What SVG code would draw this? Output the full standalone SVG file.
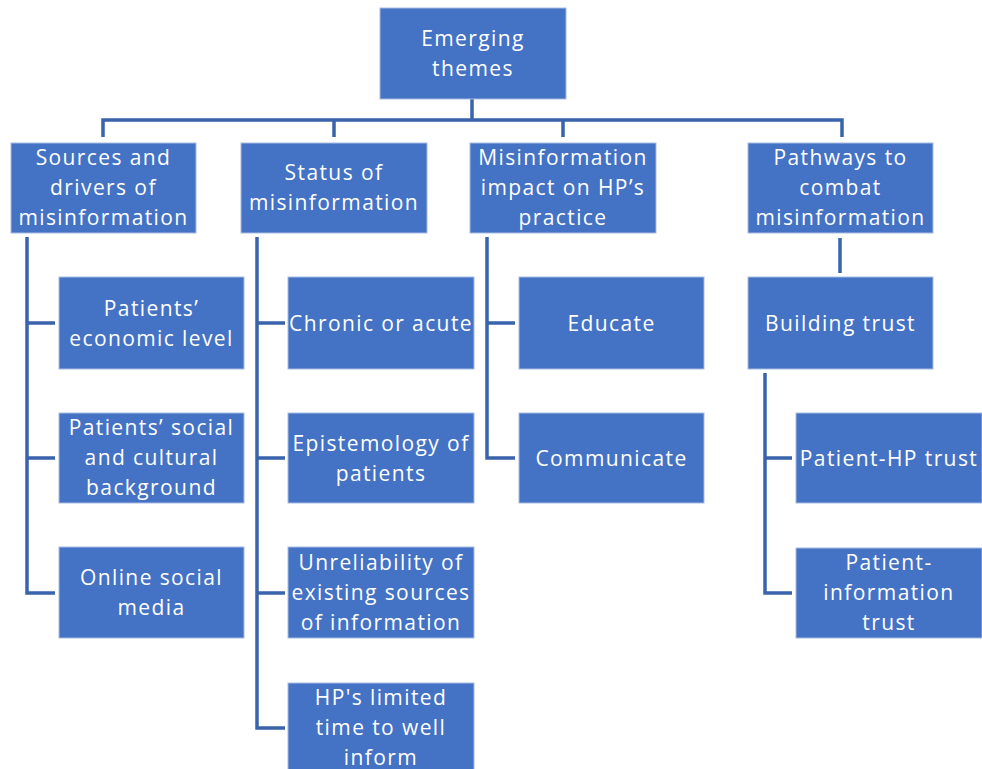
<svg xmlns="http://www.w3.org/2000/svg" width="982" height="769" viewBox="0 0 982 769">
  <style>
    .box { fill: #4472c4; stroke: #a6bbe2; stroke-width: 1; }
    .lbl { fill: #ffffff; font-family: "Open Sans", "Liberation Sans", sans-serif; font-size: 21px; letter-spacing: 1.4px; text-anchor: middle; }
    .wire { fill: none; stroke: #3a63ad; stroke-width: 3.5; stroke-linejoin: miter; }
  </style>
  <rect width="982" height="769" fill="#ffffff"/>

  <!-- connectors -->
  <g id="connectors">
    <path class="wire" d="M472 99 V120 M103 137 V120 H842 V137 M334 120 V137 M563 120 V137"/>
    <path class="wire" d="M27 237 V593 H55 M27 323 H55 M27 458 H55"/>
    <path class="wire" d="M257 237 V728 H285 M257 323 H285 M257 458 H285 M257 593 H285"/>
    <path class="wire" d="M487 237 V458 H515 M487 323 H515"/>
    <path class="wire" d="M840 238 V273"/>
    <path class="wire" d="M765 373 V593 H792 M765 458 H792"/>
  </g>

  <!-- root -->
  <g id="root">
    <rect class="box" x="380" y="8" width="186" height="91"/>
    <text class="lbl" x="473" y="46">Emerging</text>
    <text class="lbl" x="473" y="76">themes</text>
  </g>

  <!-- level 1 -->
  <g id="sources">
    <rect class="box" x="11" y="143" width="185" height="90"/>
    <text class="lbl" x="103.5" y="165">Sources and</text>
    <text class="lbl" x="103.5" y="195">drivers of</text>
    <text class="lbl" x="103.5" y="225">misinformation</text>
  </g>
  <g id="status">
    <rect class="box" x="241" y="143" width="186" height="90"/>
    <text class="lbl" x="334" y="180">Status of</text>
    <text class="lbl" x="334" y="210">misinformation</text>
  </g>
  <g id="impact">
    <rect class="box" x="470" y="143" width="186" height="90"/>
    <text class="lbl" x="563" y="165">Misinformation</text>
    <text class="lbl" x="563" y="195">impact on HP’s</text>
    <text class="lbl" x="563" y="225">practice</text>
  </g>
  <g id="pathways">
    <rect class="box" x="748" y="143" width="185" height="90"/>
    <text class="lbl" x="840.5" y="165">Pathways to</text>
    <text class="lbl" x="840.5" y="195">combat</text>
    <text class="lbl" x="840.5" y="225">misinformation</text>
  </g>

  <!-- sources children -->
  <g id="economic">
    <rect class="box" x="59" y="277" width="185" height="92"/>
    <text class="lbl" x="151.5" y="315.5">Patients’</text>
    <text class="lbl" x="151.5" y="345.5">economic level</text>
  </g>
  <g id="social-cultural">
    <rect class="box" x="59" y="413" width="185" height="90"/>
    <text class="lbl" x="151.5" y="435">Patients’ social</text>
    <text class="lbl" x="151.5" y="465">and cultural</text>
    <text class="lbl" x="151.5" y="495">background</text>
  </g>
  <g id="online-media">
    <rect class="box" x="59" y="547" width="185" height="91"/>
    <text class="lbl" x="151.5" y="585">Online social</text>
    <text class="lbl" x="151.5" y="615">media</text>
  </g>

  <!-- status children -->
  <g id="chronic">
    <rect class="box" x="288" y="277" width="186" height="92"/>
    <text class="lbl" x="381" y="330.5">Chronic or acute</text>
  </g>
  <g id="epistemology">
    <rect class="box" x="288" y="413" width="186" height="90"/>
    <text class="lbl" x="381" y="450.5">Epistemology of</text>
    <text class="lbl" x="381" y="480.5">patients</text>
  </g>
  <g id="unreliability">
    <rect class="box" x="288" y="547" width="186" height="91"/>
    <text class="lbl" x="381" y="570">Unreliability of</text>
    <text class="lbl" x="381" y="600">existing sources</text>
    <text class="lbl" x="381" y="630">of information</text>
  </g>
  <g id="limited-time">
    <rect class="box" x="288" y="683" width="186" height="92"/>
    <text class="lbl" x="381" y="705">HP's limited</text>
    <text class="lbl" x="381" y="735">time to well</text>
    <text class="lbl" x="381" y="765">inform</text>
  </g>

  <!-- impact children -->
  <g id="educate">
    <rect class="box" x="519" y="277" width="185" height="92"/>
    <text class="lbl" x="611.5" y="330.5">Educate</text>
  </g>
  <g id="communicate">
    <rect class="box" x="519" y="413" width="185" height="90"/>
    <text class="lbl" x="611.5" y="465.5">Communicate</text>
  </g>

  <!-- pathways children -->
  <g id="building-trust">
    <rect class="box" x="748" y="277" width="185" height="92"/>
    <text class="lbl" x="840.5" y="330.5">Building trust</text>
  </g>
  <g id="patient-hp">
    <rect class="box" x="796" y="413" width="186" height="90"/>
    <text class="lbl" x="889" y="465.5">Patient-HP trust</text>
  </g>
  <g id="patient-information">
    <rect class="box" x="796" y="548" width="186" height="90"/>
    <text class="lbl" x="889" y="570">Patient-</text>
    <text class="lbl" x="889" y="600">information</text>
    <text class="lbl" x="889" y="630">trust</text>
  </g>
</svg>
